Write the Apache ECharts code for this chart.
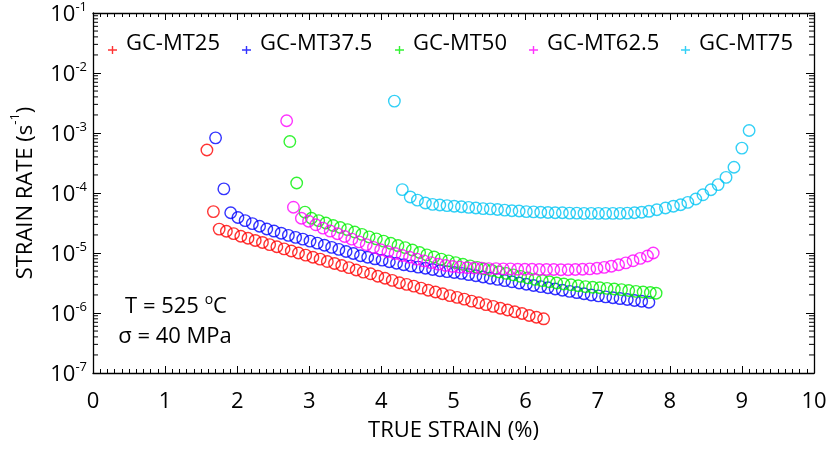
<!DOCTYPE html>
<html>
<head>
<meta charset="utf-8">
<script src="https://cdn.jsdelivr.net/npm/echarts@6/dist/echarts.min.js"></script>
<style>
  html, body { margin: 0; padding: 0; background: #fff; }
  #chart { width: 830px; height: 450px; }
</style>
</head>
<body>
<div id="chart"></div>
<script>
const FONT = '"Open Sans", "Noto Sans", sans-serif'

const seriesNames = ['GC-MT25', 'GC-MT37.5', 'GC-MT50', 'GC-MT62.5', 'GC-MT75']
const seriesColors = ['#ff0000', '#0000ff', '#00f000', '#ff00ff', '#00c4f4']

// true strain (%) / strain rate (1/s)
const mt25Strain = [1.58, 1.67, 1.75, 1.85, 1.95, 2.05, 2.15, 2.25, 2.35, 2.45, 2.55, 2.65, 2.75, 2.85, 2.95,
  3.05, 3.15, 3.25, 3.35, 3.45, 3.55, 3.65, 3.75, 3.85, 3.95, 4.05, 4.15, 4.25, 4.35, 4.45, 4.55, 4.65, 4.75,
  4.85, 4.95, 5.05, 5.15, 5.25, 5.35, 5.45, 5.55, 5.65, 5.75, 5.85, 5.95, 6.05, 6.15, 6.25]
const mt25Rate = [5.2e-4, 4.9e-5, 2.5e-5, 2.3e-5, 2.1e-5, 1.9e-5, 1.76e-5, 1.62e-5, 1.5e-5, 1.38e-5, 1.27e-5,
  1.17e-5, 1.08e-5, 1.0e-5, 9.2e-6, 8.5e-6, 7.9e-6, 7.2e-6, 6.7e-6, 6.2e-6, 5.7e-6, 5.2e-6, 4.8e-6, 4.5e-6,
  4.1e-6, 3.8e-6, 3.5e-6, 3.2e-6, 3.0e-6, 2.8e-6, 2.6e-6, 2.4e-6, 2.24e-6, 2.09e-6, 1.95e-6, 1.82e-6, 1.7e-6,
  1.58e-6, 1.48e-6, 1.38e-6, 1.29e-6, 1.2e-6, 1.12e-6, 1.05e-6, 9.8e-7, 9.1e-7, 8.5e-7, 8.0e-7]

const mt375Strain = [1.70, 1.815, 1.91, 2.01, 2.11, 2.21, 2.31, 2.41, 2.51, 2.61, 2.71, 2.81, 2.91, 3.01, 3.11,
  3.21, 3.31, 3.41, 3.51, 3.61, 3.71, 3.81, 3.91, 4.01, 4.11, 4.21, 4.31, 4.41, 4.51, 4.61, 4.71, 4.81, 4.91,
  5.01, 5.11, 5.21, 5.31, 5.41, 5.51, 5.61, 5.71, 5.81, 5.91, 6.01, 6.11, 6.21, 6.31, 6.41, 6.51, 6.61, 6.71,
  6.81, 6.91, 7.01, 7.11, 7.21, 7.31, 7.41, 7.51, 7.61, 7.71]
const mt375Rate = [8.3e-4, 1.17e-4, 4.68e-5, 3.9e-5, 3.47e-5, 3.09e-5, 2.79e-5, 2.51e-5, 2.32e-5, 2.14e-5,
  1.97e-5, 1.82e-5, 1.70e-5, 1.58e-5, 1.46e-5, 1.35e-5, 1.24e-5, 1.15e-5, 1.06e-5, 9.8e-6, 9.0e-6, 8.5e-6,
  8.0e-6, 7.6e-6, 7.16e-6, 6.76e-6, 6.38e-6, 6.1e-6, 5.82e-6, 5.56e-6, 5.31e-6, 5.07e-6, 4.90e-6, 4.73e-6,
  4.57e-6, 4.37e-6, 4.17e-6, 3.98e-6, 3.80e-6, 3.63e-6, 3.47e-6, 3.31e-6, 3.16e-6, 3.02e-6, 2.88e-6, 2.75e-6,
  2.63e-6, 2.51e-6, 2.40e-6, 2.29e-6, 2.19e-6, 2.09e-6, 2.0e-6, 1.93e-6, 1.86e-6, 1.80e-6, 1.74e-6, 1.68e-6,
  1.62e-6, 1.57e-6, 1.51e-6]

const mt50Strain = [2.73, 2.825, 2.94, 3.03, 3.13, 3.23, 3.33, 3.43, 3.53, 3.63, 3.73, 3.83, 3.93, 4.03, 4.13,
  4.23, 4.33, 4.43, 4.53, 4.63, 4.73, 4.83, 4.93, 5.03, 5.13, 5.23, 5.33, 5.43, 5.53, 5.63, 5.73, 5.83, 5.93,
  6.03, 6.13, 6.23, 6.33, 6.43, 6.53, 6.63, 6.73, 6.83, 6.93, 7.03, 7.13, 7.23, 7.33, 7.43, 7.53, 7.63, 7.73, 7.81]
const mt50Rate = [7.2e-4, 1.47e-4, 4.8e-5, 3.8e-5, 3.47e-5, 3.16e-5, 2.88e-5, 2.66e-5, 2.45e-5, 2.24e-5, 2.04e-5,
  1.86e-5, 1.72e-5, 1.58e-5, 1.45e-5, 1.33e-5, 1.23e-5, 1.12e-5, 1.02e-5, 9.3e-6, 8.6e-6, 7.9e-6, 7.4e-6,
  6.9e-6, 6.5e-6, 6.1e-6, 5.75e-6, 5.43e-6, 5.13e-6, 4.84e-6, 4.57e-6, 4.32e-6, 4.07e-6, 3.85e-6, 3.63e-6,
  3.47e-6, 3.31e-6, 3.16e-6, 3.05e-6, 2.95e-6, 2.85e-6, 2.75e-6, 2.69e-6, 2.63e-6, 2.57e-6, 2.51e-6, 2.45e-6,
  2.37e-6, 2.29e-6, 2.24e-6, 2.19e-6, 2.14e-6]

const mt625Strain = [2.686, 2.78, 2.89, 2.99, 3.09, 3.19, 3.29, 3.39, 3.49, 3.59, 3.69, 3.79, 3.89, 3.99, 4.09,
  4.19, 4.29, 4.39, 4.49, 4.59, 4.69, 4.79, 4.89, 4.99, 5.09, 5.19, 5.29, 5.39, 5.49, 5.59, 5.69, 5.79, 5.89,
  5.99, 6.09, 6.19, 6.29, 6.39, 6.49, 6.59, 6.69, 6.79, 6.89, 6.99, 7.09, 7.19, 7.29, 7.39, 7.49, 7.59, 7.69, 7.77]
const mt625Rate = [1.6e-3, 5.8e-5, 3.8e-5, 3.39e-5, 2.95e-5, 2.60e-5, 2.32e-5, 2.09e-5, 1.88e-5, 1.70e-5, 1.53e-5,
  1.38e-5, 1.24e-5, 1.135e-5, 1.05e-5, 9.8e-6, 9.1e-6, 8.5e-6, 7.9e-6, 7.4e-6, 6.9e-6, 6.5e-6, 6.2e-6, 5.96e-6,
  5.82e-6, 5.69e-6, 5.62e-6, 5.56e-6, 5.5e-6, 5.5e-6, 5.43e-6, 5.43e-6, 5.37e-6, 5.37e-6, 5.37e-6, 5.31e-6,
  5.31e-6, 5.31e-6, 5.25e-6, 5.25e-6, 5.31e-6, 5.37e-6, 5.43e-6, 5.56e-6, 5.75e-6, 6.03e-6, 6.38e-6, 6.84e-6,
  7.41e-6, 8.13e-6, 8.91e-6, 1.0e-5]

const mt75Strain = [4.18, 4.29, 4.40, 4.50, 4.61, 4.71, 4.81, 4.91, 5.01, 5.11, 5.21, 5.31, 5.41, 5.51, 5.61,
  5.71, 5.81, 5.91, 6.01, 6.11, 6.21, 6.31, 6.41, 6.51, 6.61, 6.71, 6.81, 6.91, 7.01, 7.11, 7.21, 7.31, 7.41,
  7.51, 7.61, 7.71, 7.82, 7.94, 8.05, 8.15, 8.25, 8.36, 8.46, 8.57, 8.67, 8.78, 8.89, 9.00, 9.10]
const mt75Rate = [3.4e-3, 1.14e-4, 8.6e-5, 7.6e-5, 6.8e-5, 6.46e-5, 6.31e-5, 6.17e-5, 6.03e-5, 5.89e-5, 5.75e-5,
  5.62e-5, 5.5e-5, 5.43e-5, 5.31e-5, 5.19e-5, 5.07e-5, 5.01e-5, 4.9e-5, 4.84e-5, 4.79e-5, 4.73e-5, 4.68e-5,
  4.68e-5, 4.62e-5, 4.62e-5, 4.57e-5, 4.57e-5, 4.57e-5, 4.57e-5, 4.57e-5, 4.57e-5, 4.62e-5, 4.68e-5, 4.79e-5,
  4.95e-5, 5.25e-5, 5.62e-5, 6.03e-5, 6.38e-5, 6.97e-5, 7.94e-5, 9.33e-5, 1.135e-4, 1.38e-4, 1.82e-4, 2.69e-4,
  5.6e-4, 1.1e-3]

const strainSets = [mt25Strain, mt375Strain, mt50Strain, mt625Strain, mt75Strain]
const rateSets = [mt25Rate, mt375Rate, mt50Rate, mt625Rate, mt75Rate]

// log minor ticks (2..9 per decade)
const yMinorTicks = [
  2e-7, 3e-7, 4e-7, 5e-7, 6e-7, 7e-7, 8e-7, 9e-7,
  2e-6, 3e-6, 4e-6, 5e-6, 6e-6, 7e-6, 8e-6, 9e-6,
  2e-5, 3e-5, 4e-5, 5e-5, 6e-5, 7e-5, 8e-5, 9e-5,
  2e-4, 3e-4, 4e-4, 5e-4, 6e-4, 7e-4, 8e-4, 9e-4,
  2e-3, 3e-3, 4e-3, 5e-3, 6e-3, 7e-3, 8e-3, 9e-3,
  2e-2, 3e-2, 4e-2, 5e-2, 6e-2, 7e-2, 8e-2, 9e-2]

const legendLeft = [108, 242, 395, 529, 681]
const PLUS = 'path://M0,3.3H9V4.7H0Z M3.8,0H5.2V8H3.8Z'
const FS = 22

const chart = echarts.init(document.getElementById('chart'), null, { renderer: 'canvas' })

const xAxisBase = {
  type: 'value', min: 0, max: 10, interval: 1,
  axisLine: { show: true, onZero: false, lineStyle: { color: '#000', width: 1.3 } },
  axisTick: { show: true, inside: true, length: 7, lineStyle: { color: '#000', width: 1 } },
  minorTick: { show: true, splitNumber: 10, length: 4, lineStyle: { color: '#000', width: 1 } },
  splitLine: { show: false },
  minorSplitLine: { show: false },
}
const yAxisBase = {
  type: 'log', logBase: 10, min: 1e-7, max: 1e-1,
  axisLine: { show: true, onZero: false, lineStyle: { color: '#000', width: 1.3 } },
  axisTick: { show: true, inside: true, length: 8, lineStyle: { color: '#000', width: 1 } },
  splitLine: { show: false },
}

const scatterSeries = seriesNames.map((name, i) => ({
  name,
  type: 'scatter',
  symbol: 'circle',
  symbolSize: 11.5,
  itemStyle: { color: 'rgba(0,0,0,0)', borderColor: seriesColors[i], borderWidth: 1.4 },
  emphasis: { disabled: true },
  data: strainSets[i].map((x, j) => [x, rateSets[i][j]]),
  z: 3,
}))

chart.setOption({
  animation: false,
  backgroundColor: '#fff',
  grid: { left: 93, right: 16, top: 13, bottom: 77, containLabel: false, outerBoundsMode: 'none' },
  xAxis: [
    {
      ...xAxisBase,
      position: 'bottom',
      name: 'TRUE STRAIN (%)',
      nameLocation: 'middle',
      nameGap: 47,
      nameTextStyle: { fontFamily: FONT, fontSize: FS, color: '#000' },
      axisLabel: { fontFamily: FONT, fontSize: FS, color: '#000', margin: 18 },
    },
    { ...xAxisBase, position: 'top', axisLabel: { show: false } },
  ],
  yAxis: [
    {
      ...yAxisBase,
      position: 'left',
      name: '{a|STRAIN RATE (s}{s|-1}{a|)}',
      nameLocation: 'middle',
      nameRotate: 90,
      nameGap: 51,
      nameTextStyle: {
        rich: {
          a: { fontFamily: FONT, fontSize: FS, color: '#000', lineHeight: 33 },
          s: { fontFamily: FONT, fontSize: 13, color: '#000', verticalAlign: 'top' },
        },
      },
      axisLabel: {
        margin: 6,
        formatter: v => '{b|10}{s|' + Math.round(Math.log10(v)) + '}',
        rich: {
          b: { fontFamily: FONT, fontSize: FS, color: '#000', lineHeight: 25, padding: [4, 0, 0, 0] },
          s: { fontFamily: FONT, fontSize: 13, color: '#000', lineHeight: 18, verticalAlign: 'top' },
        },
      },
    },
    { ...yAxisBase, position: 'right', axisLabel: { show: false } },
  ],
  legend: seriesNames.map((name, i) => ({
    data: [name],
    left: legendLeft[i],
    top: 33,
    padding: 0,
    icon: PLUS,
    itemWidth: 9,
    itemHeight: 8,
    selectedMode: false,
    itemStyle: { color: seriesColors[i], borderWidth: 0 },
    formatter: '{t|{name}}',
    textStyle: {
      rich: { t: { fontFamily: FONT, fontSize: FS, color: '#000', padding: [0, 0, 12, 4] } },
    },
  })),
  graphic: [
    {
      type: 'text', x: 176, y: 307,
      style: {
        text: '{a|T = 525 }{s|o}{a|C}',
        align: 'center', verticalAlign: 'middle',
        rich: {
          a: { fontFamily: FONT, fontSize: FS, fill: '#000', lineHeight: 28 },
          s: { fontFamily: FONT, fontSize: 14, fill: '#000', verticalAlign: 'top', lineHeight: 14 },
        },
      },
    },
    {
      type: 'text', x: 175, y: 337,
      style: {
        text: 'σ = 40 MPa', align: 'center', verticalAlign: 'middle',
        fontFamily: FONT, fontSize: FS, fill: '#000',
      },
    },
  ],
  series: [
    ...scatterSeries,
    {
      name: 'minorTicks',
      type: 'custom',
      silent: true,
      z: 2,
      data: yMinorTicks.map(v => [0, v]),
      renderItem: (params, api) => {
        const cs = params.coordSys
        const y = api.coord([0, api.value(1)])[1]
        const st = { stroke: '#000', lineWidth: 1 }
        return {
          type: 'group',
          children: [
            { type: 'line', shape: { x1: cs.x, y1: y, x2: cs.x + 5, y2: y }, style: st },
            { type: 'line', shape: { x1: cs.x + cs.width - 5, y1: y, x2: cs.x + cs.width, y2: y }, style: st },
          ],
        }
      },
    },
  ],
})
</script>
</body>
</html>
